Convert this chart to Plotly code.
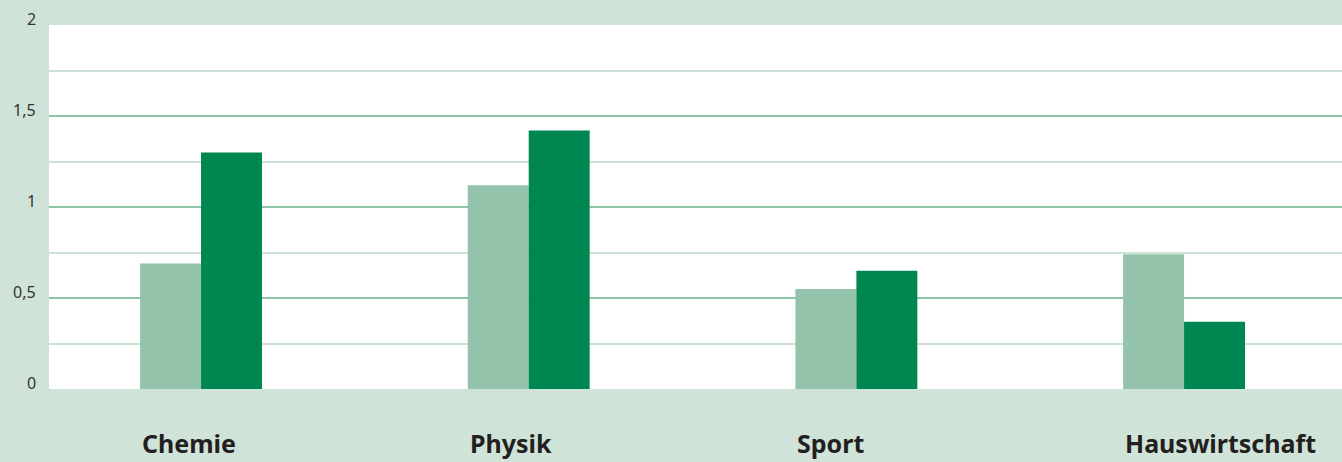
import plotly.graph_objects as go

categories = ["Chemie", "Physik", "Sport", "Hauswirtschaft"]
series_light = [0.69, 1.12, 0.55, 0.74]
series_dark = [1.30, 1.42, 0.65, 0.37]
tick_vals = [0, 0.5, 1, 1.5, 2]
tick_text = ["0", "0,5", "1", "1,5", "2"]

BG = "#d0e3d9"
LIGHT = "#93c3aa"
DARK = "#008751"
MAJOR = "#8ec4a7"
MINOR = "#cde2d7"

x_idx = list(range(len(categories)))

fig = go.Figure()
fig.add_trace(go.Bar(x=x_idx, y=series_light, marker=dict(color=LIGHT, line=dict(width=0)), name="a"))
fig.add_trace(go.Bar(x=x_idx, y=series_dark, marker=dict(color=DARK, line=dict(width=0)), name="b"))

bargap = 0.628
half_group = (1 - bargap) / 2
for i, c in enumerate(categories):
    fig.add_annotation(x=i - half_group, y=0, xref="x", yref="y", text=f"<b>{c}</b>",
                       showarrow=False, xanchor="left", yanchor="top", yshift=-35, xshift=0,
                       font=dict(family="Noto Sans", size=25, color="#231f20"))

for v, t in zip(tick_vals, tick_text):
    fig.add_annotation(x=0, y=v, xref="paper", yref="y", text=t, showarrow=False,
                       xanchor="right", yanchor="bottom", xshift=-11, yshift=-7,
                       font=dict(family="Noto Sans", size=16, color="#333333"))

fig.update_layout(
    width=1342, height=462,
    margin=dict(l=49, r=0, t=25, b=73),
    paper_bgcolor=BG, plot_bgcolor="white",
    barmode="group", bargap=bargap, bargroupgap=0,
    showlegend=False,
    xaxis=dict(range=[-0.464, 3.482], showgrid=False, showticklabels=False, zeroline=False,
               showline=False, fixedrange=True),
    yaxis=dict(range=[0, 2], tickvals=tick_vals, showticklabels=False, showgrid=True,
               gridcolor=MAJOR, gridwidth=1.5, zeroline=False, showline=False, fixedrange=True,
               minor=dict(dtick=0.25, tick0=0, showgrid=True, gridcolor=MINOR, gridwidth=1.5)),
)
fig.write_html("out.html", config={"displayModeBar": False},
               post_script="document.body.style.margin='0';document.body.style.overflow='hidden';")
